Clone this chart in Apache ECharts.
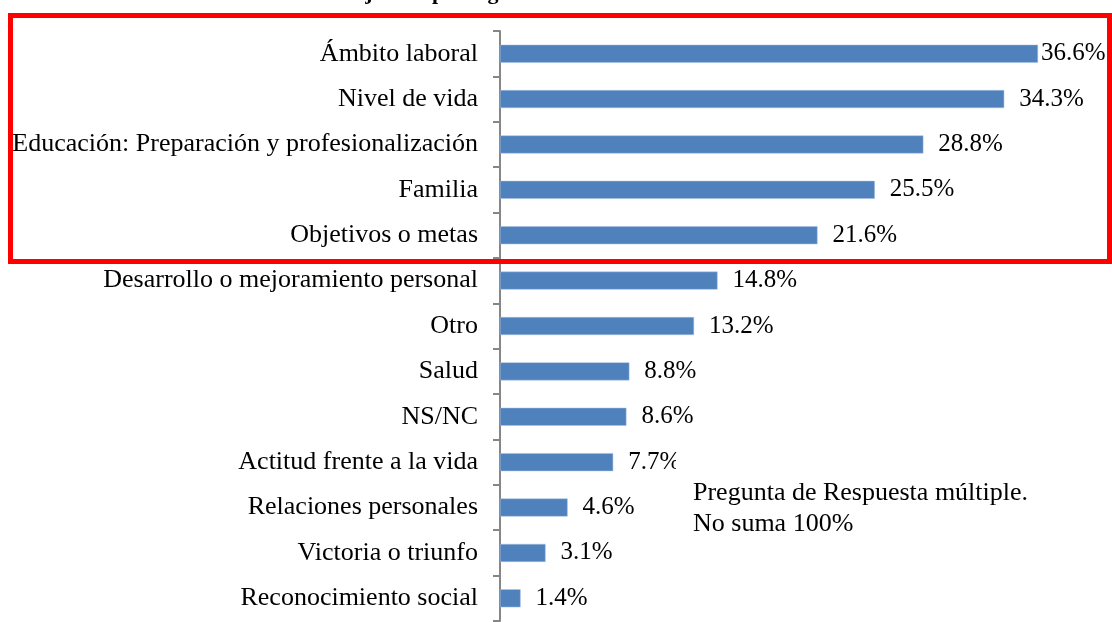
<!DOCTYPE html>
<html lang="es">
<head>
    <meta charset="UTF-8">
    <title>Objetivos</title>
    <script src="https://cdn.jsdelivr.net/npm/echarts@6/dist/echarts.min.js"></script>
    <style>
        html, body {
            margin: 0;
            height: 100%;
            background: #fff;
        }
    </style>
</head>
<body>
<div id="main" style="width: 1112px;height: 622px;"></div>
</body>
</html>
<script>

    // categorias (de arriba hacia abajo)
    var categorias = ['Ámbito laboral', 'Nivel de vida', 'Educación: Preparación y profesionalización',
        'Familia', 'Objetivos o metas', 'Desarrollo o mejoramiento personal', 'Otro', 'Salud',
        'NS/NC', 'Actitud frente a la vida', 'Relaciones personales', 'Victoria o triunfo',
        'Reconocimiento social'];
    // porcentajes
    var valores = [36.6, 34.3, 28.8, 25.5, 21.6, 14.8, 13.2, 8.8, 8.6, 7.7, 4.6, 3.1, 1.4];

    var fuente = '"Liberation Serif", "Times New Roman", serif';

    var datos = valores.map(function (v, i) {
        var item = {value: v};
        // la primera etiqueta va pegada a la barra
        if (i === 0) {
            item.label = {distance: 3};
        }
        return item;
    });

    var myChart = echarts.init(document.getElementById('main'));
    var option = {
        animation: false,
        grid: {left: 500, right: 24, top: 31, bottom: 1},
        xAxis: {
            type: 'value',
            min: 0,
            max: 40,
            show: false
        },
        yAxis: {
            type: 'category',
            inverse: true,
            data: categorias,
            axisLine: {show: true, lineStyle: {color: '#868686', width: 2}},
            axisTick: {show: true, length: 7, lineStyle: {color: '#868686', width: 2}},
            axisLabel: {
                margin: 22,
                color: '#000',
                fontFamily: fuente,
                fontSize: 26,
                padding: [6, 0, 0, 0]
            }
        },
        series: [{
            type: 'bar',
            data: datos,
            barWidth: 18,
            itemStyle: {color: '#4F81BD', borderColor: '#A9C1E0', borderWidth: 0.5},
            label: {
                show: true,
                position: 'right',
                distance: 15,
                color: '#000',
                fontFamily: fuente,
                fontSize: 25,
                padding: [6, 0, 0, 0],
                formatter: function (p) {
                    return p.value.toFixed(1) + '%';
                }
            }
        }],
        graphic: [
            {
                type: 'text',
                left: 336,
                top: -18,
                style: {
                    text: 'Objetivos por lograr',
                    fontFamily: fuente,
                    fontWeight: 'bold',
                    fontSize: 22,
                    fill: '#000'
                }
            },
            {
                type: 'rect',
                shape: {x: 10.5, y: 15.5, width: 1099, height: 246},
                style: {fill: null, stroke: '#FF0000', lineWidth: 5},
                z: 100
            },
            {
                type: 'text',
                left: 676,
                top: 457,
                z: 100,
                style: {
                    text: 'Pregunta de Respuesta múltiple.\nNo suma 100%',
                    fontFamily: fuente,
                    fontSize: 26,
                    lineHeight: 31,
                    fill: '#000',
                    backgroundColor: '#fff',
                    padding: [21, 4, 2, 17]
                }
            }
        ]
    };
    myChart.setOption(option);

</script>
